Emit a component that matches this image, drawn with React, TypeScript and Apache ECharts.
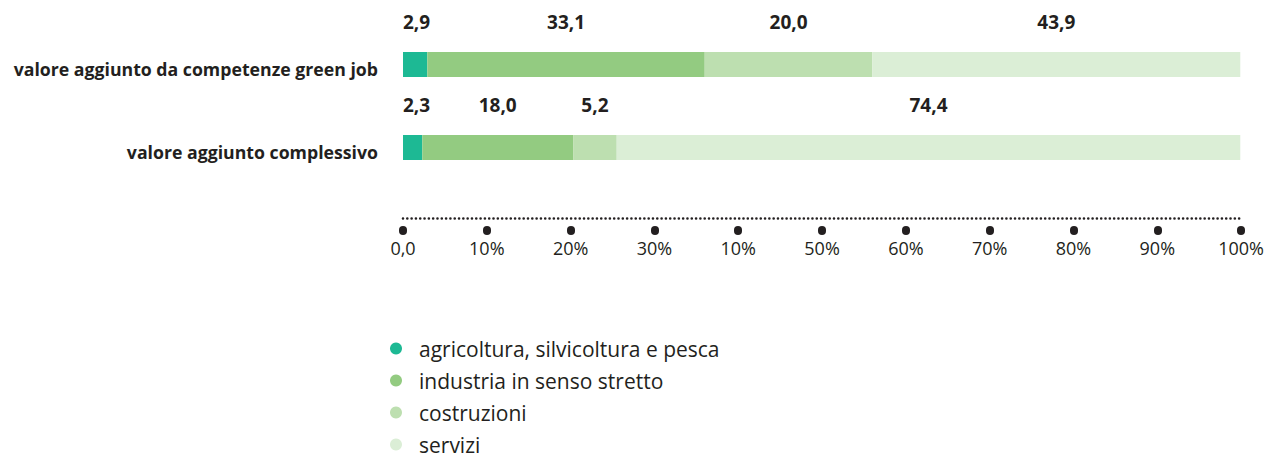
import React, { useEffect, useRef } from "react";
import * as echarts from "echarts";

const categories = [
  "valore aggiunto da competenze green job",
  "valore aggiunto complessivo",
];
const seriesNames = [
  "agricoltura, silvicoltura e pesca",
  "industria in senso stretto",
  "costruzioni",
  "servizi",
];
const agricoltura = [2.9, 2.3];
const industria = [33.1, 18.0];
const costruzioni = [20.0, 5.2];
const servizi = [43.9, 74.4];
const tickLabels = ["0,0", "10%", "20%", "30%", "10%", "50%", "60%", "70%", "80%", "90%", "100%"];

const colors = ["#1db994", "#93cb81", "#bddfb0", "#dbeed6"];
const TEXT = "#231f20";
const FONT = "'Open Sans', 'Noto Sans', sans-serif";

export default function App() {
  const ref = useRef<HTMLDivElement>(null);
  useEffect(() => {
    if (!ref.current) return;
    const chart = echarts.init(ref.current, undefined, { renderer: "svg" });
    const values = [agricoltura, industria, costruzioni, servizi];
    const fmt = (p: any) => Number(p.value).toFixed(1).replace(".", ",");
    chart.setOption({
      animation: false,
      textStyle: { fontFamily: FONT, color: TEXT },
      grid: { left: 403, right: 24, top: 23, height: 166, containLabel: false },
      legend: {
        orient: "vertical",
        left: 390,
        top: 338,
        width: 400,
        height: 300,
        padding: 0,
        itemWidth: 12,
        itemHeight: 12,
        itemGap: 11,
        icon: "circle",
        data: seriesNames,
        textStyle: {
          fontFamily: FONT,
          fontSize: 21,
          color: TEXT,
          lineHeight: 20,
          padding: [0, 0, 0, 12],
        },
      },
      xAxis: [
        {
          type: "value",
          min: 0,
          max: 100,
          interval: 10,
          position: "bottom",
          offset: 29,
          axisLine: {
            show: true,
            lineStyle: { color: TEXT, width: 2.6, type: [0.01, 4.3], cap: "round" },
          },
          axisTick: { show: false },
          axisLabel: { show: false },
          splitLine: { show: false },
        },
        {
          type: "value",
          min: 0,
          max: 100,
          interval: 10,
          position: "bottom",
          offset: 41,
          axisLine: { show: false },
          axisTick: { show: true, length: 1, lineStyle: { color: TEXT, width: 8, cap: "round" } },
          axisLabel: {
            show: true,
            margin: 9,
            fontFamily: FONT,
            fontSize: 18,
            color: TEXT,
            formatter: (v: number) => tickLabels[Math.round(v / 10)],
          },
          splitLine: { show: false },
        },
      ],
      yAxis: {
        type: "category",
        inverse: true,
        data: categories,
        axisLine: { show: false },
        axisTick: { show: false },
        axisLabel: {
          margin: 25,
          formatter: (v: string) => `{s| }\n{l|${v}}`,
          rich: {
            s: { fontSize: 4, lineHeight: 9 },
            l: {
              fontFamily: FONT,
              fontSize: 17.7,
              fontWeight: "bold",
              color: TEXT,
              lineHeight: 22,
            },
          },
        },
      },
      series: seriesNames.map((name, i) => ({
        name,
        type: "bar",
        stack: "total",
        xAxisIndex: 0,
        barWidth: 25,
        data: values[i],
        itemStyle: { color: colors[i] },
        label: {
          show: true,
          position: i === 0 ? [0, -21] : "top",
          align: i === 0 ? "left" : "center",
          verticalAlign: "bottom",
          distance: 21,
          fontFamily: FONT,
          fontSize: 19,
          fontWeight: "bold",
          color: TEXT,
          formatter: fmt,
        },
      })),
    });
    return () => chart.dispose();
  }, []);
  return (
    <div
      ref={ref}
      style={{ position: "absolute", left: 0, top: 0, width: 1267, height: 457 }}
    />
  );
}
